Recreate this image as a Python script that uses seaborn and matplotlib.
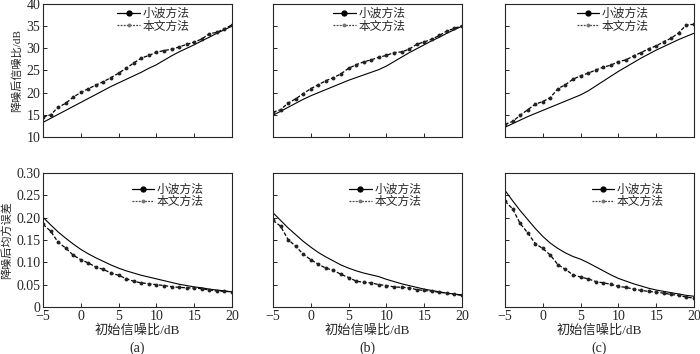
import numpy as np
import pandas as pd
import matplotlib
matplotlib.use('Agg')
import matplotlib.pyplot as plt
import seaborn as sns
from matplotlib.lines import Line2D

# 初始信噪比 (dB)
snr = list(range(-5, 21))

# 降噪后信噪比 (dB)
snr_wave_a = [13.3, 14.2, 15.1, 16.0, 16.9, 17.8, 18.7, 19.6, 20.5, 21.4, 22.2, 23.0, 23.8,
              24.6, 25.5, 26.3, 27.3, 28.3, 29.2, 30.0, 30.8, 31.7, 32.5, 33.4, 34.2, 35.0]
snr_ours_a = [14.5, 15.0, 16.7, 17.6, 19.0, 20.05, 20.9, 21.7, 22.5, 23.4, 24.4, 25.5, 26.7,
              27.8, 28.4, 29.1, 29.5, 29.8, 30.3, 30.9, 31.4, 32.1, 33.3, 33.6, 34.4, 35.3]
snr_wave_b = [14.9, 15.8, 16.7, 17.6, 18.5, 19.3, 20.0, 20.7, 21.4, 22.1, 22.8, 23.4, 24.0,
              24.6, 25.2, 26.0, 27.0, 28.0, 29.0, 29.9, 30.8, 31.7, 32.5, 33.4, 34.2, 35.0]
snr_ours_b = [15.6, 16.15, 17.65, 18.6, 19.8, 20.9, 21.8, 22.7, 23.4, 24.25, 25.5, 26.3, 26.95,
              27.4, 28.0, 28.4, 29.05, 29.2, 29.8, 30.9, 31.45, 32.05, 32.9, 33.9, 34.5, 35.1]
snr_wave_c = [12.2, 13.0, 13.8, 14.6, 15.3, 16.0, 16.7, 17.4, 18.1, 18.8, 19.5, 20.4, 21.5,
              22.6, 23.7, 24.8, 25.8, 26.8, 27.8, 28.7, 29.6, 30.4, 31.2, 32.0, 32.7, 33.4]
snr_ours_c = [12.85, 13.5, 14.9, 16.15, 17.4, 18.0, 18.9, 20.9, 21.8, 23.05, 23.8, 24.4, 25.1,
              25.75, 26.2, 27.0, 27.4, 28.3, 29.05, 29.9, 30.55, 31.5, 32.3, 33.55, 35.3, 35.4]

# 降噪后均方误差
mse_wave_a = [0.201, 0.184, 0.168, 0.154, 0.141, 0.129, 0.119, 0.110, 0.102, 0.094, 0.087, 0.081, 0.076,
              0.071, 0.067, 0.063, 0.059, 0.055, 0.051, 0.048, 0.045, 0.043, 0.040, 0.038, 0.036, 0.034]
mse_ours_a = [0.185, 0.170, 0.145, 0.132, 0.116, 0.106, 0.0985, 0.0895, 0.084, 0.076, 0.071, 0.0635, 0.0575,
              0.054, 0.052, 0.050, 0.048, 0.0455, 0.044, 0.043, 0.0425, 0.041, 0.038, 0.036, 0.035, 0.034]
mse_wave_b = [0.211, 0.194, 0.177, 0.162, 0.147, 0.134, 0.122, 0.112, 0.103, 0.094, 0.087, 0.081, 0.076,
              0.072, 0.068, 0.062, 0.057, 0.052, 0.048, 0.044, 0.040, 0.037, 0.034, 0.031, 0.029, 0.027]
mse_ours_b = [0.194, 0.181, 0.151, 0.136, 0.118, 0.106, 0.0955, 0.087, 0.082, 0.073, 0.066, 0.058, 0.055,
              0.054, 0.050, 0.048, 0.045, 0.044, 0.043, 0.039, 0.037, 0.035, 0.033, 0.031, 0.028, 0.026]
mse_wave_c = [0.261, 0.238, 0.216, 0.196, 0.176, 0.158, 0.143, 0.131, 0.121, 0.113, 0.107, 0.099, 0.090,
              0.081, 0.072, 0.064, 0.058, 0.052, 0.047, 0.042, 0.038, 0.035, 0.032, 0.029, 0.026, 0.024]
mse_ours_c = [0.237, 0.220, 0.187, 0.166, 0.142, 0.131, 0.116, 0.095, 0.084, 0.072, 0.067, 0.063, 0.057,
              0.054, 0.051, 0.046, 0.044, 0.040, 0.037, 0.035, 0.033, 0.031, 0.028, 0.026, 0.022, 0.020]

labels = ['小波方法', '本文方法']
panel_names = ['(a)', '(b)', '(c)']

sns.set_style('ticks')
plt.rcParams['font.family'] = ['Liberation Serif', 'Noto Sans CJK SC']
plt.rcParams['axes.unicode_minus'] = True
plt.rcParams['xtick.direction'] = 'in'
plt.rcParams['ytick.direction'] = 'in'

fig = plt.figure(figsize=(7, 3.54), dpi=100)

lefts = [43 / 700, 273 / 700, 505 / 700]
w = 189 / 700
axes_top = [fig.add_axes([l, 1 - 137 / 354, w, 133 / 354]) for l in lefts]
axes_bot = [fig.add_axes([l, 1 - 307 / 354, w, 134 / 354]) for l in lefts]

top_data = [(snr_wave_a, snr_ours_a), (snr_wave_b, snr_ours_b), (snr_wave_c, snr_ours_c)]
bot_data = [(mse_wave_a, mse_ours_a), (mse_wave_b, mse_ours_b), (mse_wave_c, mse_ours_c)]

# 图例位置 (轴坐标)
top_leg_x = [0.585, 0.51, 0.57]
bot_leg_x = [0.66, 0.595, 0.65]


def draw(ax, wave, ours):
    sns.lineplot(x=snr, y=wave, ax=ax, color='black', linewidth=0.8)
    sns.lineplot(x=snr, y=ours, ax=ax, color='black', linewidth=0.9,
                 linestyle=(0, (3, 1.5)), marker='o', markersize=2.8,
                 markeredgewidth=0, markerfacecolor='#222222')
    ax.set_xlim(-5, 20)
    ax.set_xticks(range(-5, 21, 5))
    for s in ax.spines.values():
        s.set_linewidth(0.8)
    ax.tick_params(length=3, width=0.7, labelsize=10, pad=2)


legend_handles = [
    Line2D([], [], color='black', linewidth=0.9, marker='o', markersize=3.5),
    Line2D([], [], color='#444444', linewidth=0.9, linestyle=(0, (1.5, 1)), marker='o',
           markersize=2.8, markerfacecolor='#777777', markeredgewidth=0),
]


def add_legend(ax, x, y):
    ax.legend(legend_handles, labels, loc='upper center', bbox_to_anchor=(x, y),
              frameon=False, fontsize=8.5, handlelength=1.9, handletextpad=0.25,
              labelspacing=0.05, borderaxespad=0, borderpad=0)


for i, ax in enumerate(axes_top):
    draw(ax, *top_data[i])
    ax.set_ylim(10, 40)
    ax.set_yticks(range(10, 41, 5))
    ax.set_xticklabels([])
    if i == 0:
        ax.set_ylabel('降噪后信噪比/dB', fontsize=8, labelpad=3)
    else:
        ax.set_yticklabels([])
    add_legend(ax, top_leg_x[i], 0.97)

for i, ax in enumerate(axes_bot):
    draw(ax, *bot_data[i])
    ax.set_ylim(0, 0.30)
    ax.set_yticks(np.arange(0, 0.31, 0.05))
    ax.set_xticklabels(['−5', '0', '5', '10', '15', '20'])
    ax.set_xlabel('初始信噪比/dB', fontsize=9.5, labelpad=1)
    if i == 0:
        ax.set_yticklabels(['0', '0.05', '0.10', '0.15', '0.20', '0.25', '0.30'])
        ax.set_ylabel('降噪后均方误差', fontsize=8, labelpad=3)
    else:
        ax.set_yticklabels([])
    add_legend(ax, bot_leg_x[i], 0.92)
    ax.text(0.5, -0.305, panel_names[i], transform=ax.transAxes, ha='center', va='center',
            fontsize=10)

fig.savefig('out.png', dpi=100)
